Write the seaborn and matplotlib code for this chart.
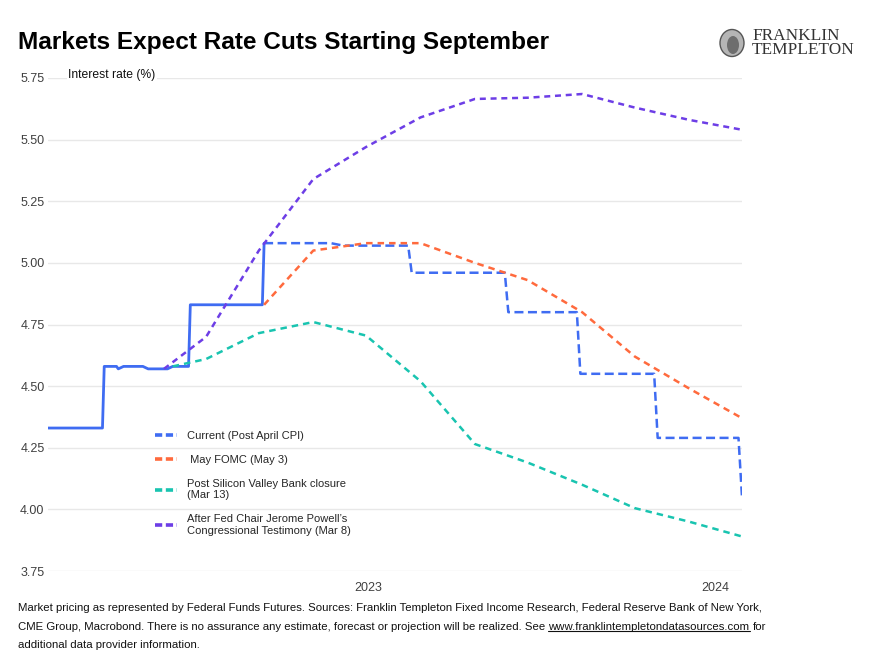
import matplotlib
matplotlib.use("Agg")
import matplotlib.pyplot as plt
import matplotlib.font_manager as fm
from matplotlib.patches import Ellipse
from matplotlib.lines import Line2D
import seaborn as sns
import pandas as pd

sns.set_theme(style="white")
names = {f.name for f in fm.fontManager.ttflist}
narrow = "Liberation Sans Narrow" if "Liberation Sans Narrow" in names else "Liberation Sans"
plt.rcParams["font.family"] = ["Liberation Sans", "DejaVu Sans"]

# effective fed funds rate (history)
hist_dates = ["2023-01-01", "2023-02-01", "2023-02-02", "2023-02-09", "2023-02-10", "2023-02-13",
              "2023-02-24", "2023-02-27", "2023-03-10", "2023-03-13", "2023-03-22", "2023-03-23",
              "2023-05-03", "2023-05-04"]
hist_rate = [4.33, 4.33, 4.58, 4.58, 4.57, 4.58,
             4.58, 4.57, 4.57, 4.58, 4.58, 4.83,
             4.83, 5.08]

# current pricing (post April CPI)
cur_dates = ["2023-05-04", "2023-06-11", "2023-06-18", "2023-07-25", "2023-07-27", "2023-09-18",
             "2023-09-20", "2023-10-29", "2023-10-31", "2023-12-12", "2023-12-14", "2024-01-29",
             "2024-01-31"]
cur_rate = [5.08, 5.08, 5.07, 5.07, 4.96, 4.96,
            4.80, 4.80, 4.55, 4.55, 4.29, 4.29,
            4.05]

month_dates = ["2023-06-01", "2023-07-01", "2023-08-01", "2023-09-01", "2023-10-01",
               "2023-11-01", "2023-12-01", "2024-01-01", "2024-01-31"]

may_dates = ["2023-05-04"] + month_dates
may_rate = [4.83, 5.05, 5.08, 5.08, 5.00, 4.93, 4.80, 4.62, 4.49, 4.37]

svb_dates = ["2023-03-13", "2023-04-01", "2023-05-01"] + month_dates
svb_rate = [4.58, 4.61, 4.715, 4.76, 4.705, 4.52, 4.265, 4.19, 4.10, 4.005, 3.95, 3.89]

pow_dates = ["2023-03-08", "2023-04-01", "2023-05-01"] + month_dates
pow_rate = [4.57, 4.70, 5.05, 5.34, 5.47, 5.59, 5.665, 5.67, 5.685, 5.63, 5.58, 5.54]

labels = ["Current (Post April CPI)", " May FOMC (May 3)",
          "Post Silicon Valley Bank closure\n(Mar 13)",
          "After Fed Chair Jerome Powell\u2019s\nCongressional Testimony (Mar 8)"]
colors = ["#3f6cf2", "#ff6a3d", "#19c4b0", "#6d3ee6"]
yticks = [3.75, 4.00, 4.25, 4.50, 4.75, 5.00, 5.25, 5.50, 5.75]

fig = plt.figure(figsize=(8.81, 6.51), dpi=100)
ax = fig.add_axes([48 / 881, 80 / 651, 694 / 881, 493 / 651])

hist = pd.DataFrame({"date": pd.to_datetime(hist_dates), "rate": hist_rate})
sns.lineplot(data=hist, x="date", y="rate", ax=ax, color=colors[0], lw=2.0, estimator=None)

series = [(cur_dates, cur_rate, (3.6, 1.8)),
          (may_dates, may_rate, (2.6, 2.0)),
          (svb_dates, svb_rate, (2.6, 2.0)),
          (pow_dates, pow_rate, (2.4, 1.9))]
for (d, r, dash), c in zip(series, colors):
    df = pd.DataFrame({"date": pd.to_datetime(d), "rate": r})
    sns.lineplot(data=df, x="date", y="rate", ax=ax, color=c, lw=1.8,
                 estimator=None, dashes=False, linestyle=(0, dash))

ax.set_xlim(pd.Timestamp("2023-01-01"), pd.Timestamp("2024-01-31"))
ax.set_ylim(3.75, 5.75)
ax.set_yticks(yticks)
ax.set_yticklabels([f"{v:.2f}" for v in yticks])
ax.set_xticks([pd.Timestamp("2023-07-02"), pd.Timestamp("2024-01-16")])
ax.set_xticklabels(["2023", "2024"])
ax.tick_params(axis="both", length=0, labelsize=9, colors="#404040")
ax.tick_params(axis="y", pad=2.5)
ax.tick_params(axis="x", pad=8)
ax.set_xlabel("")
ax.set_ylabel("")
ax.grid(axis="y", color="#e8e8e8", lw=1)
ax.grid(axis="x", visible=False)
for s in ax.spines.values():
    s.set_visible(False)

fig.text(68 / 881, 1 - 75 / 651, "Interest rate (%)", fontsize=8.7, color="#111111",
         va="center", ha="left", bbox=dict(facecolor="white", edgecolor="none", pad=1))

handles = [Line2D([], [], color=c, lw=2.6, linestyle=(0, (2.0, 1.0))) for c in colors]
fig.legend(handles, labels, loc="upper left", bbox_to_anchor=(155 / 881, 1 - 431 / 651),
           frameon=False, fontsize=8, handlelength=1.95, handletextpad=0.9,
           labelspacing=1.25, borderpad=0, borderaxespad=0)

fig.text(18 / 881, 1 - 42 / 651, "Markets Expect Rate Cuts Starting September",
         fontsize=17.6, fontweight="bold", family=narrow, color="#000000", va="center", ha="left")

# logo
fig.patches.append(Ellipse((732 / 881, 1 - 43 / 651), 24 / 881, 27 / 651,
                           transform=fig.transFigure, facecolor="#b5b5b5", edgecolor="#555555", lw=1))
fig.patches.append(Ellipse((733 / 881, 1 - 45 / 651), 12 / 881, 18 / 651,
                           transform=fig.transFigure, facecolor="#6e6e6e", edgecolor="none"))
fig.text(752 / 881, 1 - 43 / 651, "FRANKLIN\nTEMPLETON", family="Liberation Serif", fontsize=12.4,
         color="#333333", va="center", ha="left", linespacing=0.88)

# footnote
fs = 8.2
fam = narrow
fig.text(18 / 881, 1 - 608 / 651,
         "Market pricing as represented by Federal Funds Futures. Sources: Franklin Templeton Fixed "
         "Income Research, Federal Reserve Bank of New York,",
         fontsize=fs, family=fam, color="#111111", va="center", ha="left")
y2 = 1 - 627 / 651
t1 = fig.text(18 / 881, y2, "CME Group, Macrobond. There is no assurance any estimate, forecast or "
              "projection will be realized. See", fontsize=fs, family=fam, color="#111111",
              va="center", ha="left")
fig.text(18 / 881, 1 - 645 / 651, "additional data provider information.",
         fontsize=fs, family=fam, color="#111111", va="center", ha="left")

renderer = fig.canvas.get_renderer()
bb1 = t1.get_window_extent(renderer)
space = fs * 0.28 * fig.dpi / 72
x_url = (bb1.x1 + space) / fig.bbox.width
t2 = fig.text(x_url, y2, "www.franklintempletondatasources.com", fontsize=fs, family=fam,
              color="#111111", va="center", ha="left")
bb2 = t2.get_window_extent(renderer)
fig.add_artist(Line2D([bb2.x0 / fig.bbox.width, bb2.x1 / fig.bbox.width],
                      [(bb2.y0 + 1) / fig.bbox.height] * 2, transform=fig.transFigure,
                      color="#111111", lw=0.8))
fig.text((bb2.x1 + space) / fig.bbox.width, y2, "for", fontsize=fs, family=fam,
         color="#111111", va="center", ha="left")

fig.savefig("out.png", dpi=100)
